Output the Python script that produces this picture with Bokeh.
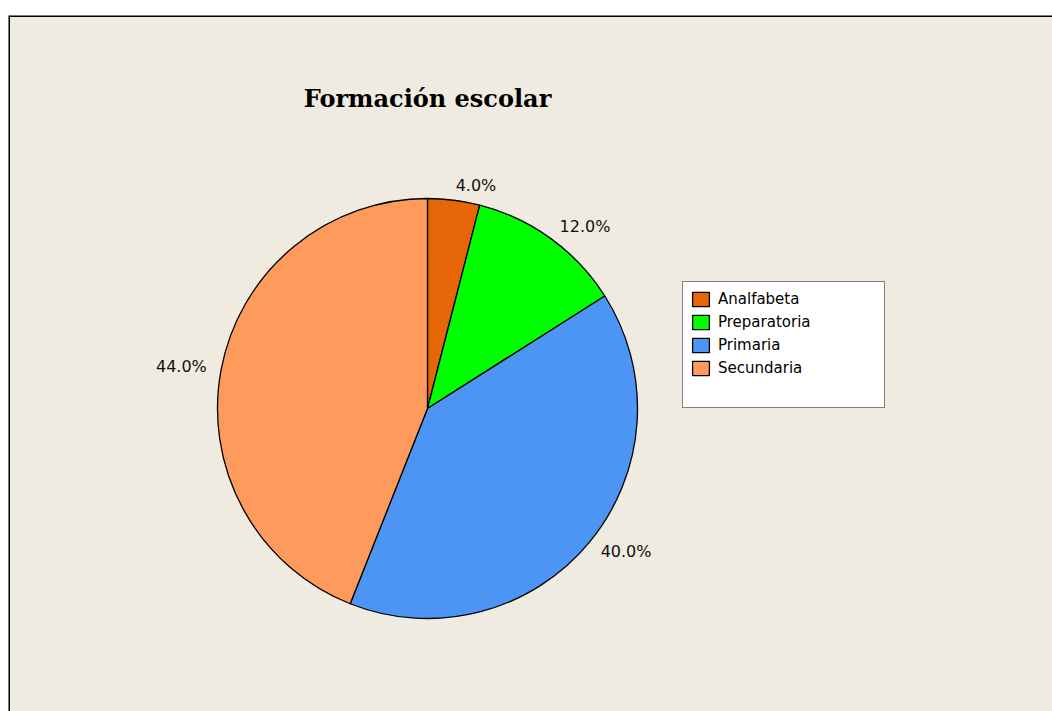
import numpy as np
from bokeh.plotting import figure
from bokeh.models import ColumnDataSource, Legend, LegendItem, Label, Span
from bokeh.core.properties import value
from bokeh.embed import file_html
from bokeh.resources import INLINE

categories = ["Analfabeta", "Preparatoria", "Primaria", "Secundaria"]
percents = [4.0, 12.0, 40.0, 44.0]
colors = ["#E66608", "#00FF00", "#4D95F4", "#FF9A5D"]
title_text = "Formación escolar"

frac = np.array(percents) / sum(percents)
cum = np.concatenate([[0], np.cumsum(frac)])
start = np.pi / 2 - cum[:-1] * 2 * np.pi
end = np.pi / 2 - cum[1:] * 2 * np.pi
mid = (start + end) / 2
lr = 1.07
lx = lr * np.cos(mid)
ly = lr * np.sin(mid)
align = ["left" if c >= 0 else "right" for c in np.cos(mid)]
labels = [f"{v:.1f}%" for v in percents]

lsrc = ColumnDataSource(dict(x=lx, y=ly, text=labels, align=align))

R = 210.0
W, H = 1052, 711
top_pad, left_pad = 15, 8
fw, fh = W - left_pad, H - top_pad
cx, cy = 419.0, 393.0

x0, x1 = -cx / R, (fw - cx) / R
y0, y1 = -(fh - cy) / R, cy / R

p = figure(width=W, height=H, output_backend="svg", toolbar_location=None,
           x_range=(x0, x1), y_range=(y0, y1),
           x_axis_location=None, y_axis_location=None,
           background_fill_color="#EFEBE0", border_fill_color="white",
           min_border_left=left_pad, min_border_right=0, min_border_bottom=0,
           min_border_top=top_pad)
p.grid.visible = False
p.outline_line_color = None

p.add_layout(Span(location=y1, dimension="width", line_color="black", line_width=3))
p.add_layout(Span(location=x0, dimension="height", line_color="black", line_width=3))

renderers = []
for i in range(len(categories)):
    r = p.wedge(x=0, y=0, radius=1, start_angle=start[i], end_angle=end[i], direction="clock",
                fill_color=colors[i], line_color="black", line_width=1.3)
    renderers.append(r)

p.text(x="x", y="y", text="text", text_align="align", text_baseline="middle", source=lsrc,
       text_font=value("DejaVu Sans"), text_font_size="16px", text_color="#111111")

dummy = p.scatter(x=[0], y=[0], size=1, fill_alpha=0, line_alpha=0)

title = Label(x=0, y=1.476, text=title_text, text_align="center", text_baseline="middle",
              text_font="DejaVu Serif", text_font_style="bold", text_font_size="24px",
              text_color="black")
p.add_layout(title)

items = [LegendItem(label=categories[i], renderers=[renderers[i]]) for i in range(len(categories))]
items.append(LegendItem(label=" ", renderers=[dummy]))
legend = Legend(items=items, location=(674, 303), orientation="vertical",
                background_fill_color="white", background_fill_alpha=1.0,
                border_line_color="black", border_line_width=1,
                label_text_font="DejaVu Sans", label_text_font_size="15px",
                label_text_color="black",
                glyph_width=21, glyph_height=18, label_height=19, label_width=159,
                label_standoff=7, spacing=4, padding=7, margin=0)
p.add_layout(legend)

open("out.html", "w").write(file_html(p, INLINE))
